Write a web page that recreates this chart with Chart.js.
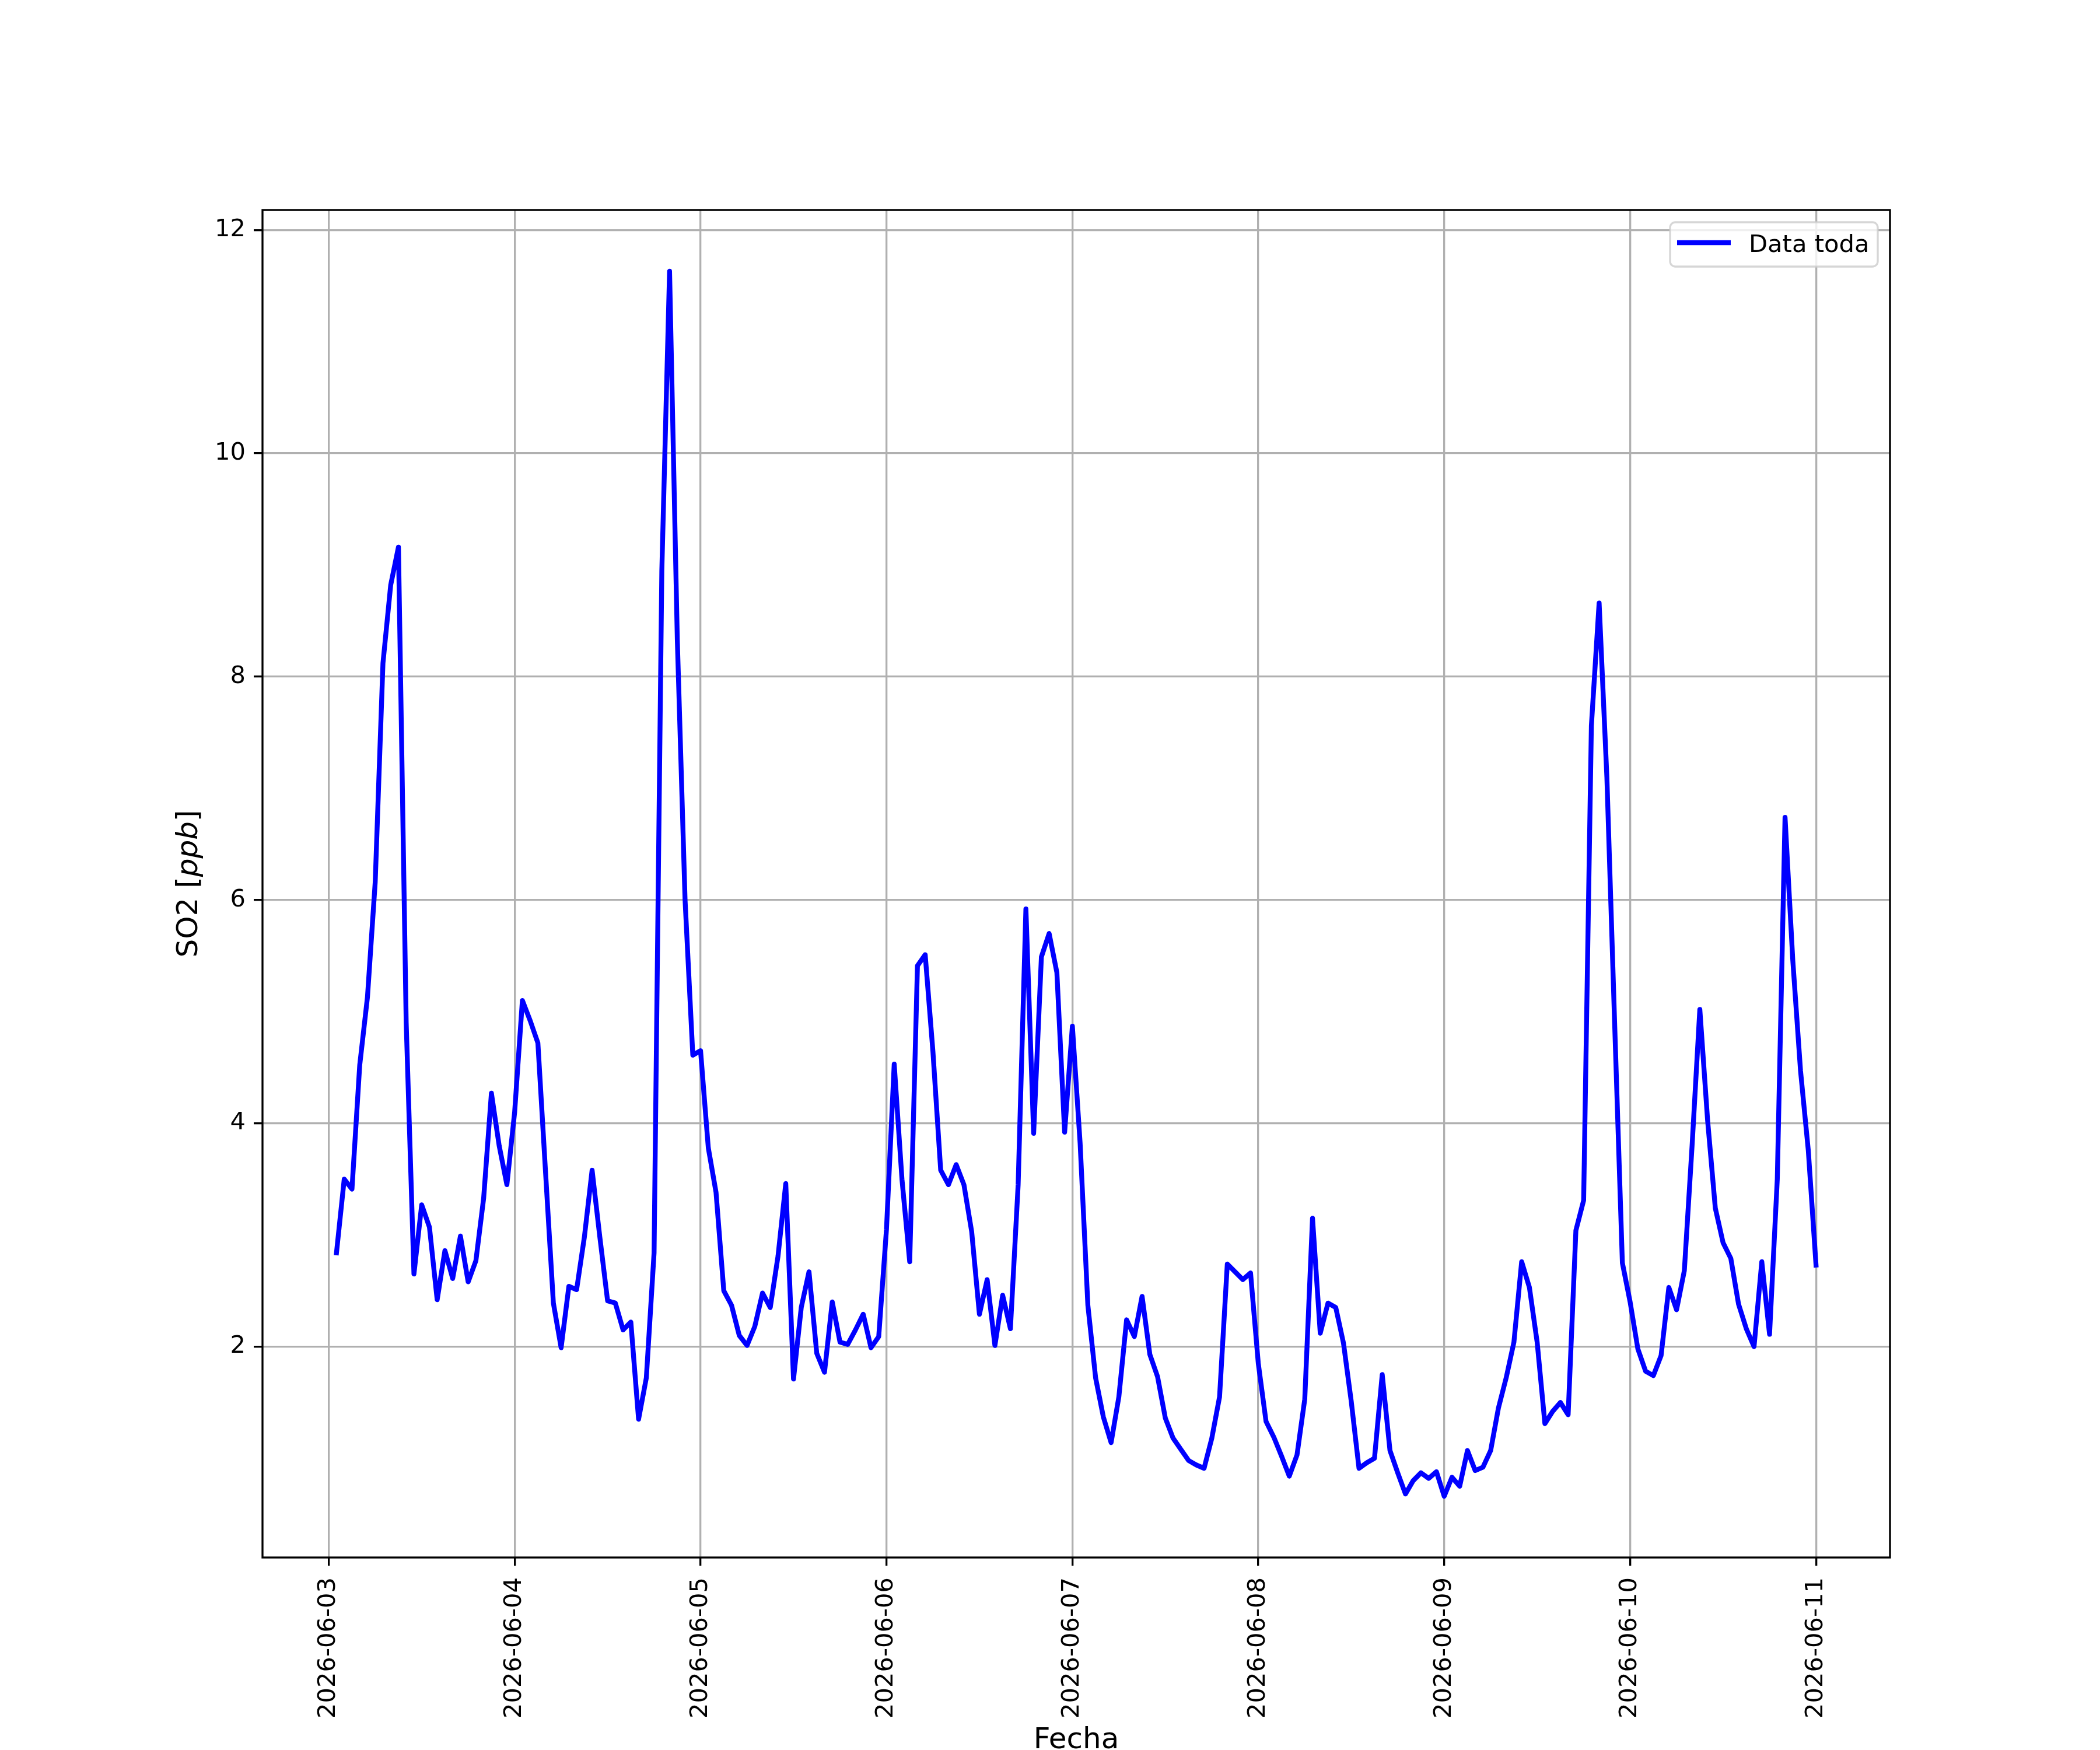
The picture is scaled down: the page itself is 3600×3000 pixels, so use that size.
<!DOCTYPE html>
<html>
<head>
<meta charset="utf-8">
<title>SO2 - Data toda</title>
<script src="https://cdn.jsdelivr.net/npm/chart.js@4.4.1/dist/chart.umd.min.js"></script>
<style>
  html, body { margin: 0; padding: 0; background: #ffffff; }
  canvas { display: block; }
</style>
</head>
<body>
<canvas id="so2Chart" width="3600" height="3000"></canvas>
<script>
// Tick labels of the x axis, one per day at 00:00
const dayLabels = ['2026-06-03', '2026-06-04', '2026-06-05', '2026-06-06', '2026-06-07',
                   '2026-06-08', '2026-06-09', '2026-06-10', '2026-06-11'];

// Hourly SO2 readings [ppb], from 01:00 to 24:00 of each day
const so2Jun03 = [2.84, 3.50, 3.41, 4.52, 5.13, 6.16, 8.12, 8.82, 9.16, 4.90, 2.65, 3.27,
                  3.07, 2.42, 2.86, 2.61, 2.99, 2.58, 2.77, 3.33, 4.27, 3.80, 3.45, 4.10];
const so2Jun04 = [5.10, 4.92, 4.72, 3.55, 2.39, 1.99, 2.54, 2.51, 2.98, 3.58, 2.98, 2.41,
                  2.39, 2.15, 2.22, 1.35, 1.72, 2.84, 8.95, 11.63, 8.33, 6.00, 4.61, 4.65];
const so2Jun05 = [3.78, 3.38, 2.50, 2.37, 2.10, 2.01, 2.18, 2.48, 2.35, 2.81, 3.46, 1.71,
                  2.35, 2.67, 1.94, 1.77, 2.40, 2.04, 2.02, 2.15, 2.29, 1.99, 2.09, 3.05];
const so2Jun06 = [4.53, 3.50, 2.76, 5.41, 5.51, 4.64, 3.58, 3.45, 3.63, 3.45, 3.03, 2.29,
                  2.60, 2.01, 2.46, 2.16, 3.45, 5.92, 3.91, 5.49, 5.70, 5.35, 3.92, 4.87];
const so2Jun07 = [3.82, 2.37, 1.72, 1.37, 1.14, 1.55, 2.24, 2.09, 2.45, 1.93, 1.73, 1.36,
                  1.18, 1.08, 0.98, 0.94, 0.91, 1.18, 1.55, 2.74, 2.67, 2.60, 2.66, 1.85];
const so2Jun08 = [1.33, 1.19, 1.02, 0.84, 1.03, 1.53, 3.15, 2.12, 2.39, 2.35, 2.03, 1.51,
                  0.91, 0.96, 1.00, 1.75, 1.07, 0.87, 0.68, 0.80, 0.87, 0.82, 0.88, 0.66];
const so2Jun09 = [0.83, 0.75, 1.07, 0.89, 0.92, 1.07, 1.45, 1.72, 2.04, 2.76, 2.53, 2.04,
                  1.31, 1.42, 1.50, 1.39, 3.04, 3.31, 7.56, 8.66, 7.10, 4.90, 2.75, 2.40];
const so2Jun10 = [1.98, 1.78, 1.74, 1.92, 2.53, 2.33, 2.68, 3.80, 5.02, 4.03, 3.24, 2.93,
                  2.79, 2.38, 2.16, 2.00, 2.76, 2.11, 3.50, 6.74, 5.46, 4.47, 3.76, 2.73];

// Tick values of the y axis
const yTicks = [2, 4, 6, 8, 10, 12];

const seriesName = 'Data toda';
const xTitle = 'Fecha';

// Build the points: x is hours counted from 2026-06-03 00:00
const dailyReadings = [so2Jun03, so2Jun04, so2Jun05, so2Jun06, so2Jun07, so2Jun08, so2Jun09, so2Jun10];
const points = [];
dailyReadings.forEach((day, d) => {
  day.forEach((value, h) => {
    points.push({ x: d * 24 + h + 1, y: value });
  });
});
const xTicks = dayLabels.map((label, i) => i * 24);

// 5% margins around the data, like matplotlib does
const xs = points.map(p => p.x);
const ys = points.map(p => p.y);
const xMin = Math.min(...xs), xMax = Math.max(...xs);
const yMin = Math.min(...ys), yMax = Math.max(...ys);
const xPad = (xMax - xMin) * 0.05;
const yPad = (yMax - yMin) * 0.05;

const PT = 300 / 72;            // one point in pixels (figure at 300 dpi)
const tickFont = { family: 'DejaVu Sans', size: 10 * PT };
const lineBlue = '#0000ff';

// Spines, axis titles and legend drawn on top of the chart
const decorations = {
  id: 'decorations',
  afterDraw(chart) {
    const ctx = chart.ctx;
    const a = chart.chartArea;
    ctx.save();

    // frame
    ctx.strokeStyle = '#000000';
    ctx.lineWidth = 0.8 * PT;
    ctx.strokeRect(a.left, a.top, a.right - a.left, a.bottom - a.top);

    // y title: SO2 [ppb] with italic ppb
    const parts = [
      { text: 'SO2 [', font: `${12 * PT}px "DejaVu Sans"` },
      { text: 'ppb', font: `italic ${12 * PT}px "DejaVu Sans"` },
      { text: ']', font: `${12 * PT}px "DejaVu Sans"` }
    ];
    let total = 0;
    parts.forEach(p => { ctx.font = p.font; p.w = ctx.measureText(p.text).width; total += p.w; });
    ctx.save();
    ctx.translate(a.left - 112, (a.top + a.bottom) / 2);
    ctx.rotate(-Math.PI / 2);
    ctx.fillStyle = '#000000';
    ctx.textBaseline = 'alphabetic';
    ctx.textAlign = 'left';
    let px = -total / 2;
    parts.forEach(p => { ctx.font = p.font; ctx.fillText(p.text, px, 0); px += p.w; });
    ctx.restore();

    // x title
    ctx.font = `${12 * PT}px "DejaVu Sans"`;
    ctx.fillStyle = '#000000';
    ctx.textAlign = 'center';
    ctx.textBaseline = 'alphabetic';
    ctx.fillText(xTitle, (a.left + a.right) / 2, a.bottom + 327);

    // legend box, upper right
    const boxRight = a.right - 21;
    const boxTop = a.top + 21;
    const boxW = 356, boxH = 76, r = 9;
    const boxLeft = boxRight - boxW;
    ctx.beginPath();
    ctx.roundRect(boxLeft, boxTop, boxW, boxH, r);
    ctx.fillStyle = 'rgba(255,255,255,0.8)';
    ctx.fill();
    ctx.strokeStyle = 'rgba(204,204,204,0.8)';
    ctx.lineWidth = 0.8 * PT;
    ctx.stroke();

    ctx.beginPath();
    ctx.moveTo(boxLeft + 12, boxTop + 35);
    ctx.lineTo(boxLeft + 104, boxTop + 35);
    ctx.strokeStyle = lineBlue;
    ctx.lineWidth = 2 * PT;
    ctx.lineCap = 'butt';
    ctx.stroke();

    ctx.font = `${10 * PT}px "DejaVu Sans"`;
    ctx.fillStyle = '#000000';
    ctx.textAlign = 'left';
    ctx.fillText(seriesName, boxLeft + 135, boxTop + 51);

    ctx.restore();
  }
};

const so2Chart = new Chart(document.getElementById('so2Chart'), {
  type: 'line',
  data: {
    datasets: [{
      label: seriesName,
      data: points,
      borderColor: lineBlue,
      backgroundColor: lineBlue,
      borderWidth: 2 * PT,
      borderJoinStyle: 'round',
      borderCapStyle: 'square',
      pointRadius: 0,
      tension: 0,
      fill: false
    }]
  },
  options: {
    responsive: false,
    animation: false,
    devicePixelRatio: 1,
    layout: { padding: { top: 360, right: 360, left: 0, bottom: 0 } },
    plugins: {
      legend: { display: false },
      tooltip: { enabled: false }
    },
    scales: {
      x: {
        type: 'linear',
        min: xMin - xPad,
        max: xMax + xPad,
        afterFit: (scale) => { scale.height = 330; },
        afterBuildTicks: (scale) => { scale.ticks = xTicks.map(v => ({ value: v })); },
        grid: {
          color: '#b0b0b0',
          lineWidth: 0.8 * PT,
          tickLength: 14,
          tickColor: '#000000',
          tickWidth: 0.8 * PT
        },
        border: { display: false },
        ticks: {
          autoSkip: false,
          minRotation: 90,
          maxRotation: 90,
          padding: 20,
          color: '#000000',
          font: tickFont,
          callback: (value, index) => dayLabels[index]
        },
        title: { display: false }
      },
      y: {
        type: 'linear',
        min: yMin - yPad,
        max: yMax + yPad,
        afterFit: (scale) => { scale.width = 450; },
        afterBuildTicks: (scale) => { scale.ticks = yTicks.map(v => ({ value: v })); },
        grid: {
          color: '#b0b0b0',
          lineWidth: 0.8 * PT,
          tickLength: 15,
          tickColor: '#000000',
          tickWidth: 0.8 * PT
        },
        border: { display: false },
        ticks: {
          padding: 14,
          color: '#000000',
          font: tickFont,
          callback: (value) => String(value)
        },
        title: { display: false }
      }
    }
  },
  plugins: [decorations]
});
</script>
</body>
</html>
